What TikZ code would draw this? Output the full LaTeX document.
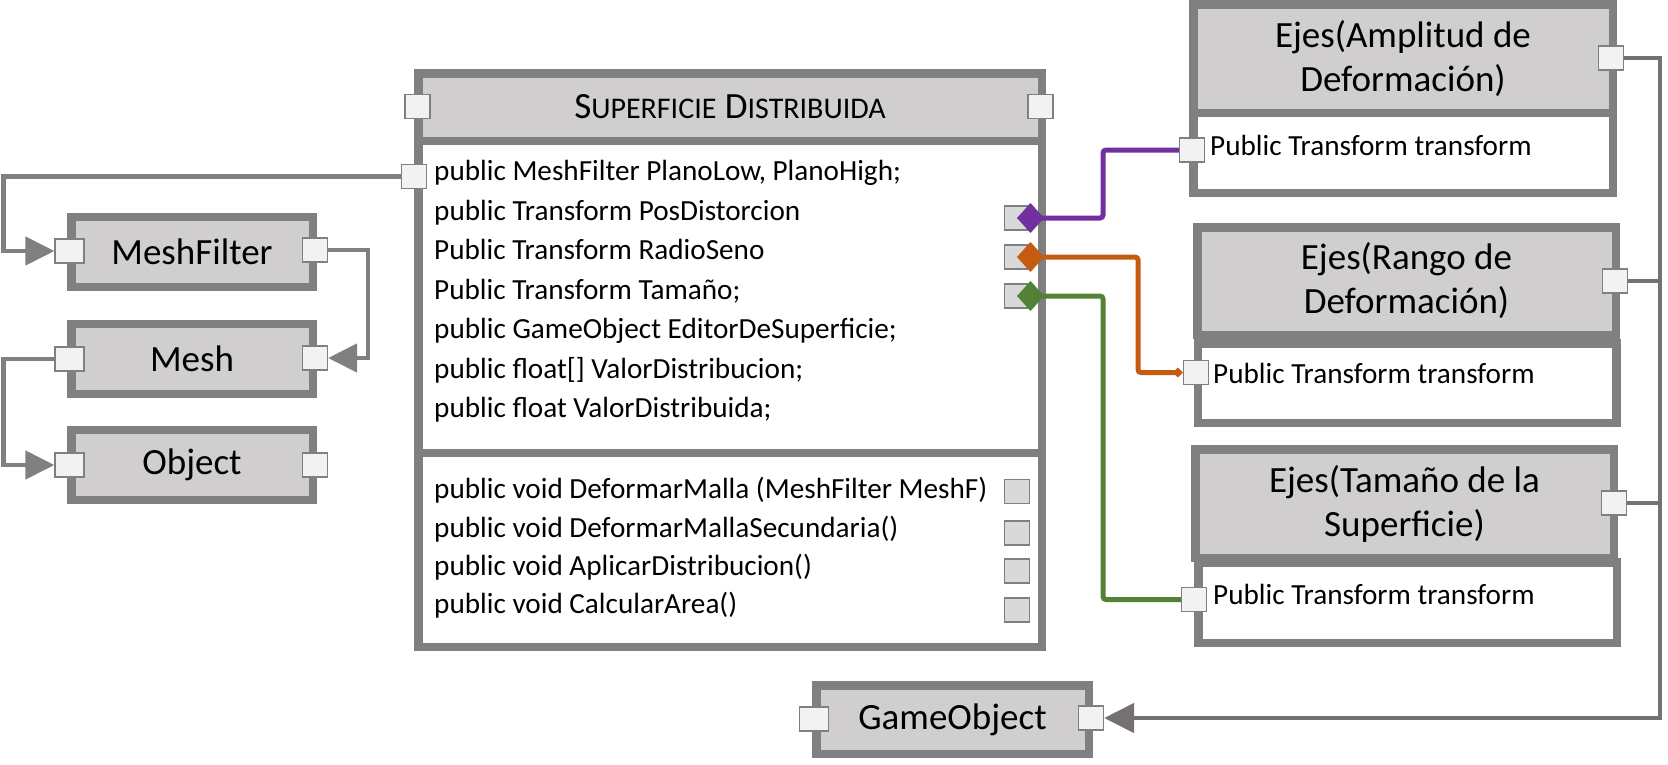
\documentclass[tikz,border=0pt]{standalone}
\usepackage{fontspec}
\setmainfont{Carlito}
\usetikzlibrary{arrows.meta}

\definecolor{boxline}{HTML}{808080}
\definecolor{headfill}{HTML}{D0CECE}
\definecolor{portfill}{HTML}{F2F2F2}
\definecolor{slotfill}{HTML}{D9D9D9}
\definecolor{busline}{HTML}{767171}
\definecolor{lnpurple}{HTML}{7030A0}
\definecolor{lnorange}{HTML}{C55A11}
\definecolor{lngreen}{HTML}{538135}

\tikzset{
  clsbox/.style={draw=boxline, line width=8.5pt, inner sep=0pt},
  hdbox/.style={clsbox, fill=headfill},
  bdbox/.style={clsbox, fill=white},
  smallcls/.style={hdbox, lbl, minimum width=241.5pt, minimum height=70pt},
  lbl/.style={font=\fontsize{37}{44}\selectfont},
  txt/.style={font=\fontsize{29.2}{34}\selectfont, anchor=base west, inner sep=0pt},
  port/.style={draw=boxline, line width=1.2pt, fill=portfill, minimum width=25pt, minimum height=24pt, inner sep=0pt},
  wport/.style={port, minimum width=29pt},
  slot/.style={port, fill=slotfill},
  link/.style={draw=boxline, line width=4.5pt},
  buslink/.style={draw=busline, line width=4.5pt},
  clink/.style={draw=#1, line width=5pt, rounded corners=3pt},
}

\begin{document}
\begin{tikzpicture}[x=1pt,y=-1pt]
\useasboundingbox (0,0) rectangle (1668,764);

% left classes
\node[smallcls] (mf) at (192,252) {MeshFilter};
\node[smallcls] (ms) at (192,359) {Mesh};
\node[smallcls] (ob) at (192,465) {Object};
\node[hdbox, lbl, minimum width=272.5pt, minimum height=68.5pt] (go) at (952.5,719.5) {GameObject};

% superficie distribuida
\node[bdbox, minimum width=623.5pt, minimum height=312pt] (sdF) at (730,296.75) {};
\node[bdbox, minimum width=623.5pt, minimum height=194pt] (sdM) at (730,549.75) {};
\node[hdbox, lbl, minimum width=623.5pt, minimum height=67.5pt] (sdH) at (730,107)
  {S{\fontsize{30}{34}\selectfont UPERFICIE} D{\fontsize{30}{34}\selectfont ISTRIBUIDA}};

\node[txt] (fMesh) at (434,180.5) {public MeshFilter PlanoLow, PlanoHigh;};
\node[txt] (fPos) at (434,220) {public Transform PosDistorcion};
\node[txt] (fRad) at (434,259.5) {Public Transform RadioSeno};
\node[txt] (fTam) at (434,299) {Public Transform Tamaño;};
\node[txt] (fEdit) at (434,338.5) {public GameObject EditorDeSuperficie;};
\node[txt] (fVals) at (434,378) {public float[] ValorDistribucion;};
\node[txt] (fVal) at (434,417.5) {public float ValorDistribuida;};
\node[txt] (mDef) at (434,498) {public void DeformarMalla (MeshFilter MeshF)};
\node[txt] (mSec) at (434,537) {public void DeformarMallaSecundaria()};
\node[txt] (mApl) at (434,575) {public void AplicarDistribucion()};
\node[txt] (mCal) at (434,613) {public void CalcularArea()};

% ejes
\node[bdbox, minimum width=419.5pt, minimum height=80.5pt] (eAb) at (1403,152.5) {};
\node[hdbox, lbl, align=center, minimum width=419.5pt, minimum height=108.5pt] (eA) at (1403,58.5) {Ejes(Amplitud de\\Deformación)};
\node[bdbox, minimum width=418.5pt, minimum height=79.5pt] (eBb) at (1407,383) {};
\node[hdbox, lbl, align=center, minimum width=418.5pt, minimum height=107.5pt] (eB) at (1406.5,281) {Ejes(Rango de\\Deformación)};
\node[bdbox, minimum width=418.5pt, minimum height=80.5pt] (eCb) at (1407.5,602.5) {};
\node[hdbox, lbl, align=center, minimum width=418.5pt, minimum height=108.5pt] (eC) at (1404.5,503.5) {Ejes(Tamaño de la\\Superficie)};
\node[txt] (eAt) at (1210,155) {Public Transform transform};
\node[txt] (eBt) at (1213,383) {Public Transform transform};
\node[txt] (eCt) at (1213,604) {Public Transform transform};

% ports
\node[wport] (mfL) at (69.5,251) {};
\node[port] (mfR) at (315,250) {};
\node[wport] (msL) at (69.5,359) {};
\node[port] (msR) at (315,358) {};
\node[wport] (obL) at (69.5,465) {};
\node[port] (obR) at (315,465) {};
\node[wport] (goL) at (814,719) {};
\node[port] (goR) at (1091,718) {};
\node[port] (sdHL) at (417.5,106.5) {};
\node[port] (sdHR) at (1040.5,106.5) {};
\node[port] (pMesh) at (414,176.5) {};
\node[slot] (pPos) at (1017,218) {};
\node[slot] (pRad) at (1017,257) {};
\node[slot] (pTam) at (1017,296) {};
\node[slot] (sDef) at (1017,491.5) {};
\node[slot] (sSec) at (1017,533) {};
\node[slot] (sApl) at (1017,571) {};
\node[slot] (sCal) at (1017,610) {};
\node[port] (eAout) at (1611,58) {};
\node[port] (eAin) at (1192,150) {};
\node[port] (eBout) at (1615,281) {};
\node[port] (eBin) at (1196,372.5) {};
\node[port] (eCout) at (1614,503) {};
\node[port] (eCin) at (1194,599.5) {};

% connectors
\draw[link, -{Triangle[length=29pt,width=28pt]}] (pMesh.west) -| ([xshift=-51pt]mfL.west) -- (mfL.west);
\draw[link, -{Triangle[length=29pt,width=28pt]}] (mfR.east) -| ([xshift=40pt]msR.east) -- (msR.east);
\draw[link, -{Triangle[length=29pt,width=28pt]}] (msL.west) -| ([xshift=-51pt]obL.west) -- (obL.west);

\draw[clink=lnpurple, {Diamond[length=27pt,width=30pt]}-] (pPos.center) -- ++(86,0) |- (eAin.west);
\draw[clink=lnorange, {Diamond[length=27pt,width=30pt]}-{Diamond[length=10pt,width=10pt]}] (pRad.center) -- ++(121,0) |- (eBin.west);
\draw[clink=lngreen, {Diamond[length=27pt,width=30pt]}-] (pTam.center) -- ++(86,0) |- (eCin.west);

\coordinate (bus) at ([xshift=556pt]goR.east);
\draw[buslink, -{Triangle[length=30pt,width=29pt]}] (eAout.east) -| (bus) -- (goR.east);
\draw[buslink] (eBout.east) -| (bus);
\draw[buslink] (eCout.east) -| (bus);
\end{tikzpicture}
\end{document}
